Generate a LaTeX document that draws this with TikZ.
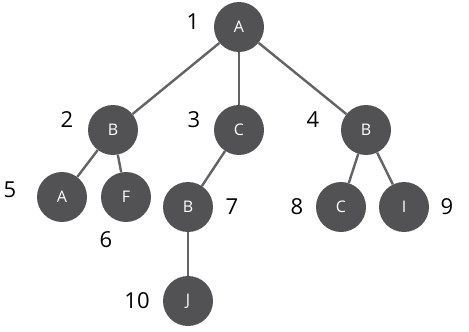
\documentclass[tikz,border=0pt]{standalone}
\usepackage{fontspec}
\setmainfont{Open Sans}
\usepackage{tikz}
\usetikzlibrary{positioning}
\definecolor{gris}{RGB}{82,82,84}

\begin{document}
\begin{tikzpicture}[x=1pt,y=-1pt,sommet/.style={circle,fill=gris,minimum size=50pt,inner sep=0pt,text=white,font=\fontsize{16}{16}\selectfont},arete/.style={draw=gris!90,line width=2.4pt},num/.style={font=\fontsize{22}{22}\selectfont,text=black}]
\useasboundingbox (0,0) rectangle (469,332);
\node[sommet] (a1) at (239,27) {A};
\node[sommet] (b2) at (113,130) {B};
\node[sommet] (c3) at (239,130) {C};
\node[sommet] (b4) at (366,130) {B};
\node[sommet] (a5) at (62,197) {A};
\node[sommet] (f6) at (126,197) {F};
\node[sommet] (b7) at (188,207) {B};
\node[sommet] (c8) at (341,207) {C};
\node[sommet] (i9) at (404,207) {I};
\node[sommet] (j10) at (188,301) {J};
\node[num] (n1) at (193,22) {1};
\node[num] (n2) at (67,120) {2};
\node[num] (n3) at (194,120) {3};
\node[num] (n4) at (313,120) {4};
\node[num] (n5) at (10,190) {5};
\node[num] (n6) at (106,240) {6};
\node[num] (n7) at (232,207) {7};
\node[num] (n8) at (297,207) {8};
\node[num] (n9) at (447,207) {9};
\node[num] (n10) at (137,301) {10};
\draw[arete] (a1)--(b2);
\draw[arete] (a1)--(c3);
\draw[arete] (a1)--(b4);
\draw[arete] (b2)--(a5);
\draw[arete] (b2)--(f6);
\draw[arete] (c3)--(b7);
\draw[arete] (b7)--(j10);
\draw[arete] (b4)--(c8);
\draw[arete] (b4)--(i9);
\end{tikzpicture}
\end{document}
